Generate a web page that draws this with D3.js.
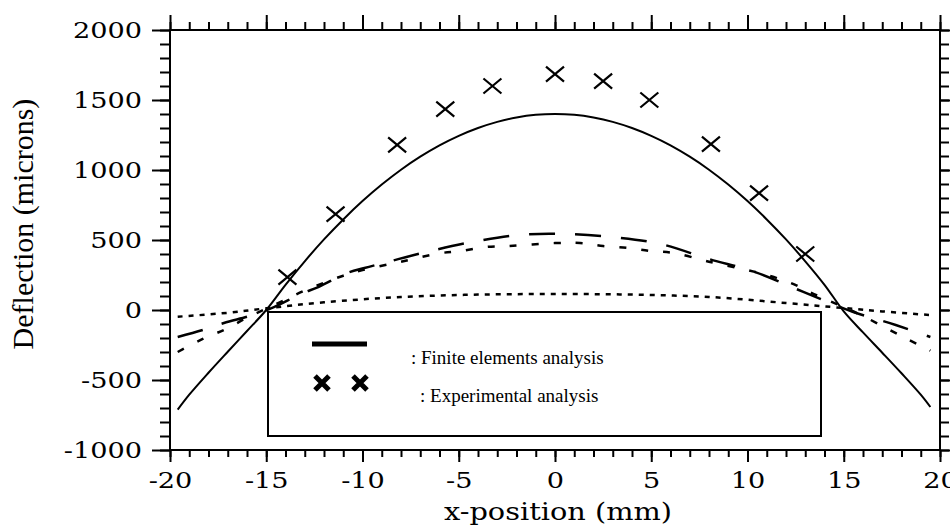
<!DOCTYPE html>
<html>
<head>
<meta charset="utf-8">
<script src="https://cdn.jsdelivr.net/npm/d3@7"></script>
<style>
    body { margin: 0; background: #fff; }
    .tick text {
        font-family: "DejaVu Serif", serif;
        font-size: 23px;
        fill: #000;
        transform-box: fill-box;
        transform: scaleX(1.18);
    }
    .yax .tick text { transform-origin: 100% 50%; }
    .xax .tick text { transform-origin: 50% 50%; }
    .domain { display: none; }
    .tick line { stroke: #000; stroke-width: 2; }
    .times { font-family: "Liberation Serif", "Times New Roman", serif; }
</style>
</head>
<body>
<script>
// finite elements curve
const femX = [-19.6, -19, -18, -17, -16, -15, -14, -13, -12, -11, -10, -9, -8, -7, -6, -5, -4, -3, -2, -1, 0,
    1, 2, 3, 4, 5, 6, 7, 8, 9, 10, 11, 12, 13, 14, 15, 16, 17, 18, 19, 19.5];
const femY = [-712, -605, -448, -298, -150, 0, 180, 348, 504, 647, 778, 896, 1002, 1095, 1176, 1244, 1300, 1344, 1375, 1394, 1400,
    1394, 1375, 1344, 1300, 1244, 1176, 1095, 1002, 896, 778, 647, 504, 348, 180, -10, -160, -305, -452, -605, -693];

// experimental points
const expX = [-13.9, -11.4, -8.2, -5.7, -3.25, 0, 2.5, 4.9, 8.1, 10.6, 13.0];
const expY = [235, 685, 1180, 1435, 1600, 1685, 1635, 1500, 1185, 835, 400];

// long dashed curve
const dashX = [-19.6, -18.3, -17.2, -15.7, -14.6, -13.2, -12.3, -10.8, -9.9, -8.7, -6.7, -4.3, -1.9, 0.5,
    3, 5.5, 8, 10.4, 12.9, 15.5, 17.7, 19.5];
const dashY = [-193, -143, -93, -36, 21, 115, 164, 264, 300, 343, 414, 486, 536, 543,
    521, 471, 364, 271, 129, -14, -107, -193];

// dash-dot curve
const dashDotX = [-19.6, -18.3, -17.1, -16, -15, -14, -13, -12, -11, -10, -8, -6, -4.9, -3.6, -2.4, 0, 1.3,
    2.5, 3.8, 5, 6.2, 8, 10, 11, 12.25, 13.45, 15, 15.9, 17.2, 18.4, 19.5];
const dashDotY = [-300, -207, -136, -55, 10, 75, 140, 195, 245, 285, 345, 405, 421, 450, 457, 478, 478,
    457, 443, 421, 407, 345, 285, 250, 193, 114, 20, -36, -129, -214, -290];

// dotted curve
const dotX = [-19.6, -17, -15, -12, -8, -4, 0, 4, 8, 12, 15, 17, 19.5];
const dotY = [-48, -20, 12, 55, 93, 110, 114, 110, 93, 50, 14, -10, -36];

// ticks
const xMajor = [-20, -15, -10, -5, 0, 5, 10, 15, 20];
const yMajor = [-1000, -500, 0, 500, 1000, 1500, 2000];
const xMinor = d3.range(-20, 21, 1);
const yMinor = d3.range(-1000, 2001, 100);

const legendLabels = [': Finite elements analysis', ': Experimental analysis'];

// svg and plot frame
const w = 950, h = 526;
const pLeft = 170, pRight = 940, pTop = 30, pBottom = 450;

const x = d3.scaleLinear().domain([-20, 20]).range([pLeft, pRight]);
const y = d3.scaleLinear().domain([-1000, 2000]).range([pBottom, pTop]);

const svg = d3.select('body')
    .append('svg')
    .attr('width', w)
    .attr('height', h);

// axes: minor ticks first, then major
function addAxis(axis, tx, ty, cls) {
    return svg.append('g')
        .attr('class', cls)
        .attr('transform', `translate(${tx},${ty})`)
        .call(axis);
}

addAxis(d3.axisLeft(y).tickValues(yMinor).tickSize(10).tickFormat(''), pLeft, 0, 'ymin');
addAxis(d3.axisLeft(y).tickValues(yMajor).tickSize(18).tickPadding(10).tickFormat(d => d), pLeft, 0, 'yax');
addAxis(d3.axisRight(y).tickValues(yMinor).tickSize(9).tickFormat(''), pRight, 0, 'ymin');
addAxis(d3.axisRight(y).tickValues(yMajor).tickSize(13).tickFormat(''), pRight, 0, 'ymin');
addAxis(d3.axisBottom(x).tickValues(xMinor).tickSize(7).tickFormat(''), 0, pBottom, 'xmin');
addAxis(d3.axisBottom(x).tickValues(xMajor).tickSize(12).tickPadding(10).tickFormat(d => d), 0, pBottom, 'xax');
addAxis(d3.axisTop(x).tickValues(xMinor).tickSize(8).tickFormat(''), 0, pTop, 'xmin');
addAxis(d3.axisTop(x).tickValues(xMajor).tickSize(15).tickFormat(''), 0, pTop, 'xmin');

svg.append('rect')
    .attr('x', pLeft)
    .attr('y', pTop)
    .attr('width', pRight - pLeft)
    .attr('height', pBottom - pTop)
    .attr('fill', 'none')
    .attr('stroke', '#000')
    .attr('stroke-width', 2);

// curves
const line = d3.line()
    .x(d => x(d[0]))
    .y(d => y(d[1]))
    .curve(d3.curveCatmullRom);

const curves = [
    { xs: dotX, ys: dotY, dash: '5,6', width: 2.5 },
    { xs: dashDotX, ys: dashDotY, dash: '7,15', width: 2.5 },
    { xs: dashX, ys: dashY, dash: '26,20', width: 2.5 },
    { xs: femX, ys: femY, dash: null, width: 2 }
];

svg.selectAll('path.curve')
    .data(curves)
    .enter()
    .append('path')
    .attr('class', 'curve')
    .attr('d', c => line(d3.zip(c.xs, c.ys)))
    .attr('fill', 'none')
    .attr('stroke', '#000')
    .attr('stroke-width', c => c.width)
    .attr('stroke-dasharray', c => c.dash);

// experimental crosses
const cross = 'M-9,-7.5L9,7.5M-9,7.5L9,-7.5';
svg.selectAll('path.exp')
    .data(d3.zip(expX, expY))
    .enter()
    .append('path')
    .attr('class', 'exp')
    .attr('transform', d => `translate(${x(d[0])},${y(d[1])})`)
    .attr('d', cross)
    .attr('fill', 'none')
    .attr('stroke', '#000')
    .attr('stroke-width', 2.2);

// legend
const lg = svg.append('g');
lg.append('rect')
    .attr('x', 268)
    .attr('y', 312)
    .attr('width', 553)
    .attr('height', 124)
    .attr('fill', '#fff')
    .attr('stroke', '#000')
    .attr('stroke-width', 2);
lg.append('line')
    .attr('x1', 312).attr('x2', 367)
    .attr('y1', 344).attr('y2', 344)
    .attr('stroke', '#000')
    .attr('stroke-width', 5);
lg.selectAll('path')
    .data([322, 360])
    .enter()
    .append('path')
    .attr('transform', d => `translate(${d},383)`)
    .attr('d', 'M-7,-7L7,7M-7,7L7,-7')
    .attr('stroke', '#000')
    .attr('stroke-width', 5);
lg.selectAll('text')
    .data(legendLabels)
    .enter()
    .append('text')
    .attr('class', 'times')
    .attr('x', (d, i) => i == 0 ? 411 : 420)
    .attr('y', (d, i) => i == 0 ? 364 : 402)
    .attr('font-size', 19)
    .text(d => d);

// axis titles
svg.append('text')
    .attr('transform', 'translate(558,520) scale(1.2,1)')
    .attr('text-anchor', 'middle')
    .attr('font-family', '"DejaVu Serif", serif')
    .attr('font-size', 24)
    .text('x-position (mm)');

svg.append('text')
    .attr('class', 'times')
    .attr('transform', 'translate(33,224) rotate(-90)')
    .attr('text-anchor', 'middle')
    .attr('font-size', 30)
    .text('Deflection (microns)');
</script>
</body>
</html>
